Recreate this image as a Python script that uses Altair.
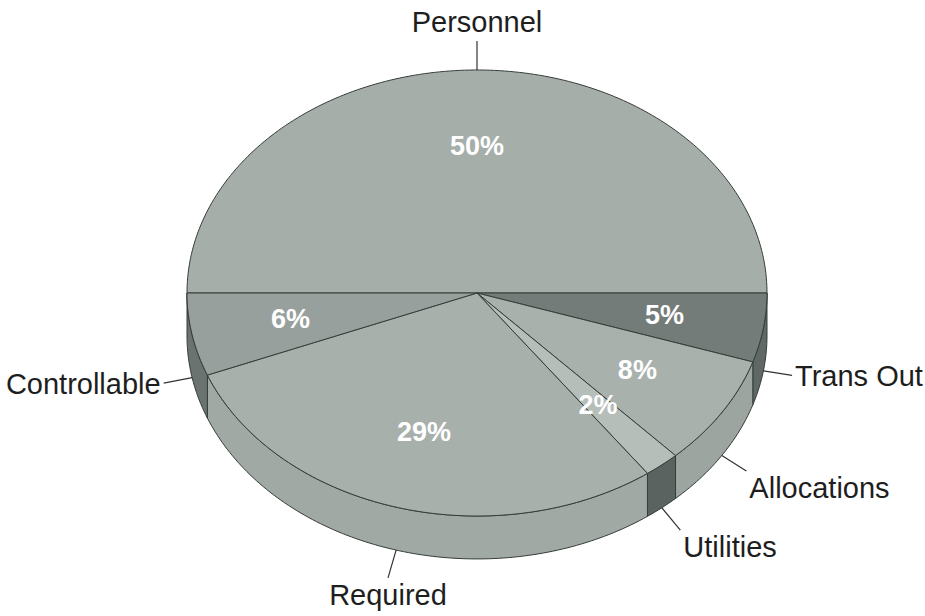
import math
import altair as alt

# Budget shares, listed clockwise starting from the left edge of the disc
categories = ["Personnel", "Trans Out", "Allocations", "Utilities", "Required", "Controllable"]
shares = [50, 5, 8, 2, 29, 6]
top_colors = ["#a6aeaa", "#737c78", "#a9b1ad", "#b6beba", "#a8b0ac", "#97a09c"]
wall_colors = ["#a6aeaa", "#5f6864", "#9da5a1", "#5a635f", "#a1a9a5", "#6a7370"]

# Disc geometry, in units of the horizontal radius
TILT = 0.769     # vertical squash of the top face
DEPTH = 0.148    # thickness of the disc
START = 180.0    # first slice starts at the left edge (degrees, clockwise on screen)
LEAD = 0.10      # leader line length
PCT_R = 0.655    # radial position of the percentage labels
PX = 1 / 290     # one screen pixel in disc units

proj = alt.Projection(type="identity", scale=290, translate=[477, 293])
EDGE = "#353d39"


def pt(deg, drop=0.0):
    r = math.radians(deg)
    return [math.cos(r), TILT * math.sin(r) + drop]


def arc(a, b, drop=0.0):
    n = max(2, int(abs(b - a)) + 1)
    return [pt(a + (b - a) * i / n, drop) for i in range(n + 1)]


def feature(geom_type, coords, **props):
    return {"type": "Feature", "geometry": {"type": geom_type, "coordinates": coords},
            "properties": props}


tops, walls, leaders, names, pcts = [], [], [], [], []
angle = START
for name, share, tc, wc in zip(categories, shares, top_colors, wall_colors):
    a, b = angle, angle + share * 3.6
    angle = b
    tops.append(feature("Polygon", [[[0.0, 0.0]] + arc(a, b) + [[0.0, 0.0]]], fill=tc))

    # the visible rim is the front half of the disc (360..540 degrees)
    lo, hi = max(a, 360.0), min(b, 540.0)
    if hi > lo:
        ring = arc(lo, hi) + arc(hi, lo, DEPTH) + [pt(lo)]
        walls.append(feature("Polygon", [ring], fill=wc))

    mid = (a + b) / 2
    c, s = math.cos(math.radians(mid)), math.sin(math.radians(mid))
    anchor = pt(mid, DEPTH if s > 0 else 0.0)
    end = [anchor[0] + LEAD * c, anchor[1] + LEAD * s]
    leaders.append(feature("LineString", [anchor, end]))

    if c > 0.3:
        align, dx = "left", 3 * PX
    elif c < -0.3:
        align, dx = "right", -3 * PX
    else:
        align, dx = "center", 0.0
    dy = math.copysign(18 * PX, s) if abs(s) > 0.45 else 2 * PX
    names.append({"lon": end[0] + dx, "lat": end[1] + dy, "label": name, "align": align})

    p = pt(mid)
    pcts.append({"lon": PCT_R * p[0], "lat": PCT_R * p[1], "label": f"{share}%"})


wall_layer = alt.Chart(alt.Data(values=walls)).mark_geoshape(
    stroke=EDGE, strokeWidth=1
).encode(fill=alt.Fill("properties.fill:N", scale=None, legend=None)).project(**proj.to_dict())

top_layer = alt.Chart(alt.Data(values=tops)).mark_geoshape(
    stroke=EDGE, strokeWidth=1
).encode(fill=alt.Fill("properties.fill:N", scale=None, legend=None)).project(**proj.to_dict())

leader_layer = alt.Chart(alt.Data(values=leaders)).mark_geoshape(
    filled=False, stroke="#333333", strokeWidth=1.2
).project(**proj.to_dict())

name_layers = []
for al in ["left", "center", "right"]:
    rows = [r for r in names if r["align"] == al]
    if not rows:
        continue
    name_layers.append(
        alt.Chart(alt.Data(values=rows)).mark_text(
            align=al, baseline="middle", font="Liberation Sans", fontSize=29, color="#1e1e1e"
        ).encode(
            longitude="lon:Q", latitude="lat:Q", text="label:N"
        ).project(**proj.to_dict())
    )

pct_layer = alt.Chart(alt.Data(values=pcts)).mark_text(
    align="center", baseline="middle", font="Liberation Sans", fontSize=27,
    fontWeight="bold", color="#ffffff"
).encode(
    longitude="lon:Q", latitude="lat:Q", text="label:N"
).project(**proj.to_dict())

chart = alt.layer(wall_layer, top_layer, leader_layer, *name_layers, pct_layer).properties(
    width=925, height=616, padding=0, autosize="none", background="#ffffff"
).configure_view(stroke=None)

chart.save("out.html", embed_options={"renderer": "svg", "actions": False})
